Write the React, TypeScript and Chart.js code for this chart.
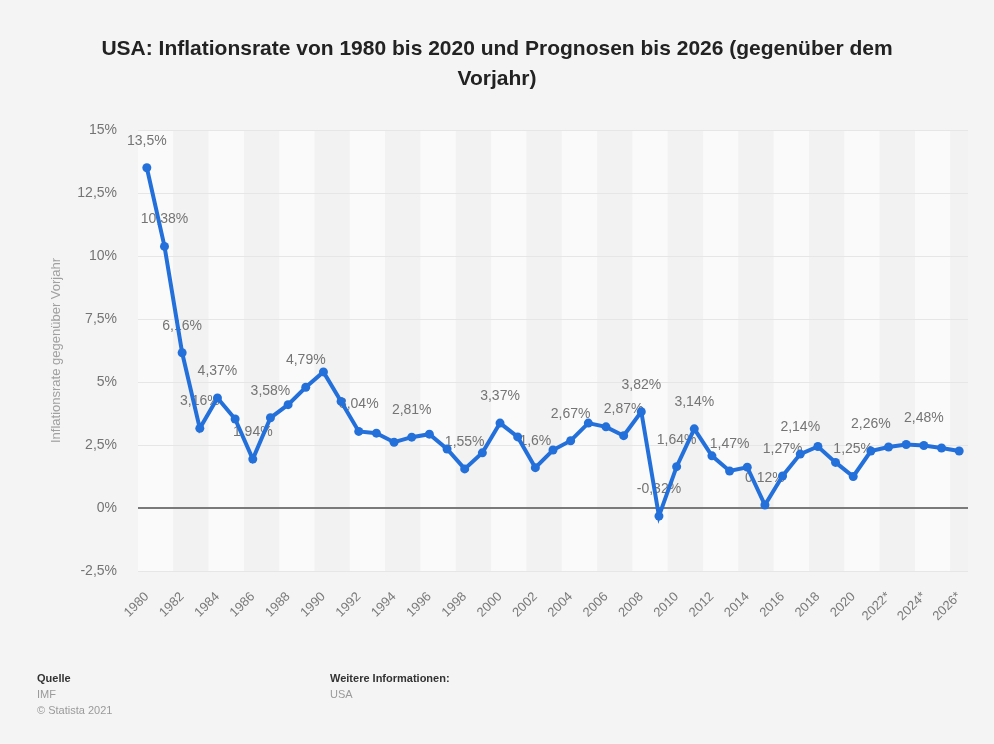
import React, { useEffect, useRef } from "react";
import { Chart, registerables } from "chart.js";

Chart.register(...registerables);

const years: string[] = [
  "1980","1981","1982","1983","1984","1985","1986","1987","1988","1989",
  "1990","1991","1992","1993","1994","1995","1996","1997","1998","1999",
  "2000","2001","2002","2003","2004","2005","2006","2007","2008","2009",
  "2010","2011","2012","2013","2014","2015","2016","2017","2018","2019",
  "2020","2021*","2022*","2023*","2024*","2025*","2026*",
];

const inflation: number[] = [
  13.5, 10.38, 6.16, 3.16, 4.37, 3.53, 1.94, 3.58, 4.1, 4.79,
  5.4, 4.23, 3.04, 2.97, 2.61, 2.81, 2.93, 2.34, 1.55, 2.19,
  3.37, 2.82, 1.6, 2.3, 2.67, 3.37, 3.22, 2.87, 3.82, -0.32,
  1.64, 3.14, 2.07, 1.47, 1.62, 0.12, 1.27, 2.14, 2.44, 1.81,
  1.25, 2.26, 2.42, 2.52, 2.48, 2.38, 2.26,
];

const labelledYears: string[] = [
  "1980","1981","1982","1983","1984","1986","1987","1989","1992","1995",
  "1998","2000","2002","2004","2007","2008","2009","2010","2011","2013",
  "2015","2016","2017","2020","2021*","2024*",
];

const yTicks: number[] = [-2.5, 0, 2.5, 5, 7.5, 10, 12.5, 15];

const fmt = (v: number) => String(v).replace(".", ",") + "%";

const FONT = "'Liberation Sans', Arial, Helvetica, sans-serif";

export default function App() {
  const ref = useRef<HTMLCanvasElement | null>(null);

  useEffect(() => {
    if (!ref.current) return;

    const bandsPlugin = {
      id: "bands",
      beforeDraw(chart: any) {
        const { ctx, chartArea, scales } = chart;
        const xs = scales.x;
        const n = years.length;
        const step = (chartArea.right - chartArea.left) / n;
        ctx.save();
        for (let k = 0; k * 2 < n; k++) {
          const start = xs.getPixelForValue(k * 2) - step / 2;
          const end = Math.min(start + step * 2, chartArea.right);
          ctx.fillStyle = k % 2 === 0 ? "#fafafa" : "#f2f2f2";
          ctx.fillRect(start, chartArea.top, end - start, chartArea.bottom - chartArea.top);
        }
        ctx.restore();
      },
    };

    const labelsPlugin = {
      id: "valueLabels",
      beforeDatasetsDraw(chart: any) {
        const { ctx, scales } = chart;
        ctx.save();
        ctx.font = `14px ${FONT}`;
        ctx.fillStyle = "#747474";
        ctx.textAlign = "center";
        ctx.textBaseline = "middle";
        inflation.forEach((v, i) => {
          if (!labelledYears.includes(years[i])) return;
          const x = scales.x.getPixelForValue(i);
          const y = scales.y.getPixelForValue(v);
          ctx.fillText(fmt(v), x, y - 27);
        });
        ctx.restore();
      },
    };

    const chart = new Chart(ref.current, {
      type: "line",
      data: {
        labels: years,
        datasets: [
          {
            data: inflation,
            borderColor: "#2470da",
            backgroundColor: "#2470da",
            borderWidth: 4,
            pointRadius: 4.5,
            pointBorderWidth: 0,
            pointBackgroundColor: "#2470da",
            tension: 0,
          },
        ],
      },
      plugins: [bandsPlugin, labelsPlugin],
      options: {
        animation: false,
        responsive: false,
        maintainAspectRatio: false,
        layout: { padding: { top: 130, right: 26, left: 0, bottom: 0 } },
        plugins: {
          legend: { display: false },
          title: { display: false },
          tooltip: { enabled: false },
        },
        scales: {
          x: {
            offset: true,
            grid: { display: false, drawTicks: false },
            border: { display: false },
            afterFit: (s: any) => { s.height = 173; },
            ticks: {
              autoSkip: false,
              maxRotation: 45,
              minRotation: 45,
              padding: 18,
              color: "#7a7a7a",
              font: { family: FONT, size: 13 },
              callback: (_v: any, i: number) => (i % 2 === 0 ? years[i] : ""),
            },
          },
          y: {
            min: -2.5,
            max: 15,
            afterFit: (s: any) => { s.width = 138; },
            afterBuildTicks: (s: any) => { s.ticks = yTicks.map((v) => ({ value: v })); },
            border: { display: false },
            grid: {
              drawTicks: false,
              color: (c: any) => (c.tick && c.tick.value === 0 ? "#7a7a7a" : "#e6e6e6"),
              lineWidth: (c: any) => (c.tick && c.tick.value === 0 ? 2 : 1),
            },
            ticks: {
              padding: 21,
              color: "#747474",
              font: { family: FONT, size: 14 },
              callback: (v: any) => fmt(Number(v)),
            },
            title: {
              display: true,
              text: "Inflationsrate gegenüber Vorjahr",
              color: "#a0a0a0",
              font: { family: FONT, size: 13 },
              padding: { top: 49, bottom: 0 },
            },
          },
        },
      },
    });
    return () => chart.destroy();
  }, []);

  return (
    <div style={{ position: "absolute", left: 0, top: 0, width: 994, height: 744, background: "#f4f4f4", overflow: "hidden", fontFamily: FONT }}>
      <canvas ref={ref} width={994} height={744} style={{ position: "absolute", left: 0, top: 0, width: 994, height: 744 }} />
      <div style={{ position: "absolute", left: 0, top: 33, width: 994, textAlign: "center", fontWeight: "bold", fontSize: 21, lineHeight: "30px", color: "#222" }}>
        USA: Inflationsrate von 1980 bis 2020 und Prognosen bis 2026 (gegenüber dem<br />Vorjahr)
      </div>
      <div style={{ position: "absolute", left: 37, top: 670, fontSize: 11, lineHeight: "16px" }}>
        <div style={{ color: "#333", fontWeight: "bold" }}>Quelle</div>
        <div style={{ color: "#9a9a9a" }}>IMF</div>
        <div style={{ color: "#9a9a9a" }}>© Statista 2021</div>
      </div>
      <div style={{ position: "absolute", left: 330, top: 670, fontSize: 11, lineHeight: "16px" }}>
        <div style={{ color: "#333", fontWeight: "bold" }}>Weitere Informationen:</div>
        <div style={{ color: "#9a9a9a" }}>USA</div>
      </div>
    </div>
  );
}
